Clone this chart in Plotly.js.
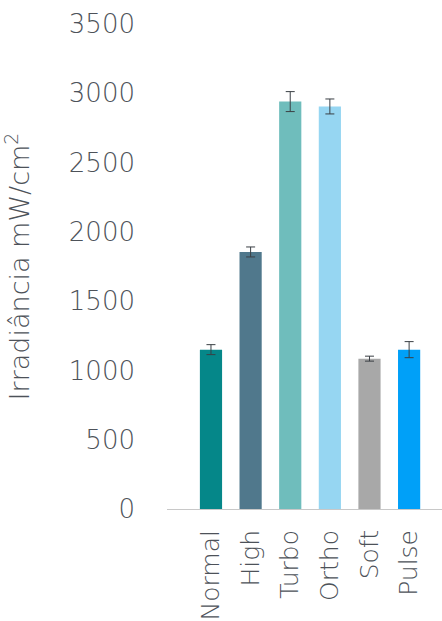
<!DOCTYPE html>
<html>
<head>
<meta charset="utf-8">
<script src="https://cdn.plot.ly/plotly-3.0.1.min.js"></script>
<style>html,body{margin:0;padding:0;background:#fff;}#chart{width:442px;height:621px;}</style>
</head>
<body>
<div id="chart"></div>
<script>
const categories = ["Normal", "High", "Turbo", "Ortho", "Soft", "Pulse"];
const irradiance = [1150, 1855, 2940, 2905, 1085, 1150];
const errors = [36, 36, 72, 54, 18, 58];
const barColors = ["#058789", "#50788c", "#6fbdbc", "#96d6f2", "#a8a8a8", "#00a0f8"];
const yTicks = [0, 500, 1000, 1500, 2000, 2500, 3000, 3500];

const textColor = "#4d5259";
const fontFamily = "'DejaVu Sans', Lato, sans-serif";

const trace = {
  type: "bar",
  x: categories,
  y: irradiance,
  marker: { color: barColors },
  error_y: { type: "data", array: errors, visible: true, color: "#3a3f44", thickness: 1, width: 4.5 },
  hoverinfo: "none"
};

const layout = {
  width: 442,
  height: 621,
  margin: { l: 167, r: 0, t: 24, b: 111.5 },
  paper_bgcolor: "#ffffff",
  plot_bgcolor: "#ffffff",
  showlegend: false,
  bargap: 0.44,
  font: { family: fontFamily, color: textColor, weight: 200 },
  xaxis: {
    type: "category",
    range: [-1.11, 5.83],
    showline: true,
    linecolor: "#c8c8c8",
    linewidth: 1,
    showgrid: false,
    zeroline: false,
    ticks: "",
    tickangle: -90,
    ticklabelstandoff: 10,
    tickfont: { family: fontFamily, size: 25, color: textColor, weight: 200 },
    automargin: false
  },
  yaxis: {
    range: [0, 3500],
    tickvals: yTicks,
    ticktext: yTicks.map(String),
    showline: false,
    showgrid: false,
    zeroline: false,
    ticks: "",
    ticklabelstandoff: 31,
    tickfont: { family: fontFamily, size: 26, color: textColor, weight: 200 },
    title: { text: "Irradiância mW/cm<sup>2</sup>", font: { family: fontFamily, size: 27, color: textColor, weight: 200 }, standoff: 32 },
    automargin: false
  }
};

Plotly.newPlot("chart", [trace], layout, { displayModeBar: false, staticPlot: true });
</script>
</body>
</html>
